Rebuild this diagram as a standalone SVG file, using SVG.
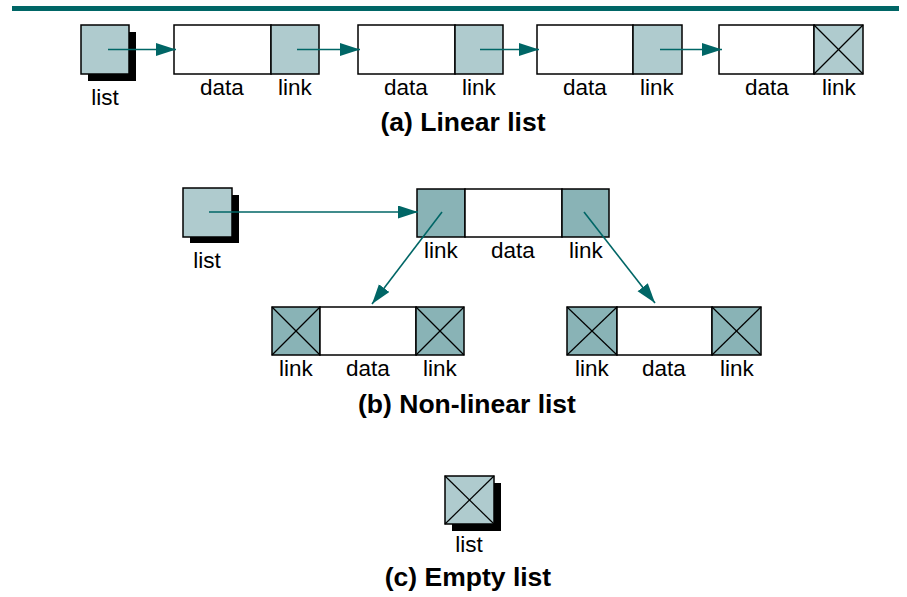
<svg xmlns="http://www.w3.org/2000/svg" width="907" height="597" viewBox="0 0 907 597">
<style>
  text { font-family: "Liberation Sans", Arial, sans-serif; fill: #000; }
  .lbl { font-size: 22.5px; text-anchor: middle; }
  .ttl { font-size: 26.5px; font-weight: bold; text-anchor: middle; }
  .box { stroke: #000; stroke-width: 1.5; }
  .light { fill: #afcbce; }
  .dark { fill: #89b3b6; }
  .white { fill: #fff; }
  .shadow { fill: #000; }
  .x { stroke: #000; stroke-width: 1.2; }
  .arr { stroke: #006666; stroke-width: 1.6; fill: none; marker-end: url(#ah); }
</style>
<defs>
  <marker id="ah" markerUnits="userSpaceOnUse" markerWidth="22" markerHeight="14" refX="20" refY="6.5" orient="auto">
    <path d="M0,0 L20,6.5 L0,13 Z" fill="#006666"/>
  </marker>
</defs>
<rect x="12" y="6" width="887" height="5" fill="#006666"/>

<!-- (a) Linear list -->
<g id="a-list">
  <rect class="shadow" x="88" y="32" width="48" height="49"/>
  <rect class="box light" x="81" y="25" width="48" height="49"/>
  <text class="lbl" x="105" y="105">list</text>
</g>
<g id="a-node1">
  <rect class="box white" x="174" y="25" width="97" height="49"/>
  <rect class="box light" x="271" y="25" width="48" height="49"/>
  <text class="lbl" x="222" y="95">data</text>
  <text class="lbl" x="295" y="95">link</text>
</g>
<g id="a-node2">
  <rect class="box white" x="358" y="25" width="97" height="49"/>
  <rect class="box light" x="455" y="25" width="48" height="49"/>
  <text class="lbl" x="406" y="95">data</text>
  <text class="lbl" x="479" y="95">link</text>
</g>
<g id="a-node3">
  <rect class="box white" x="537" y="25" width="96" height="49"/>
  <rect class="box light" x="633" y="25" width="49" height="49"/>
  <text class="lbl" x="585" y="95">data</text>
  <text class="lbl" x="657" y="95">link</text>
</g>
<g id="a-node4">
  <rect class="box white" x="719" y="25" width="95" height="49"/>
  <rect class="box light" x="814" y="25" width="49" height="49"/>
  <line class="x" x1="814" y1="25" x2="863" y2="74"/>
  <line class="x" x1="863" y1="25" x2="814" y2="74"/>
  <text class="lbl" x="767" y="95">data</text>
  <text class="lbl" x="839" y="95">link</text>
</g>
<text class="ttl" x="463" y="131">(a) Linear list</text>

<!-- (b) Non-linear list -->
<g id="b-list">
  <rect class="shadow" x="190" y="195" width="49" height="48"/>
  <rect class="box light" x="183" y="188" width="49" height="49"/>
  <text class="lbl" x="207" y="268">list</text>
</g>
<g id="b-root">
  <rect class="box dark" x="417" y="189" width="48" height="48"/>
  <rect class="box white" x="465" y="189" width="97" height="48"/>
  <rect class="box dark" x="562" y="189" width="47" height="48"/>
  <text class="lbl" x="441" y="258">link</text>
  <text class="lbl" x="513" y="258">data</text>
  <text class="lbl" x="586" y="258">link</text>
</g>
<g id="b-left">
  <rect class="box dark" x="272" y="307" width="48" height="48"/>
  <rect class="box white" x="320" y="307" width="96" height="48"/>
  <rect class="box dark" x="416" y="307" width="48" height="48"/>
  <line class="x" x1="272" y1="307" x2="320" y2="355"/>
  <line class="x" x1="320" y1="307" x2="272" y2="355"/>
  <line class="x" x1="416" y1="307" x2="464" y2="355"/>
  <line class="x" x1="464" y1="307" x2="416" y2="355"/>
  <text class="lbl" x="296" y="376">link</text>
  <text class="lbl" x="368" y="376">data</text>
  <text class="lbl" x="440" y="376">link</text>
</g>
<g id="b-right">
  <rect class="box dark" x="567" y="307" width="50" height="48"/>
  <rect class="box white" x="617" y="307" width="95" height="48"/>
  <rect class="box dark" x="712" y="307" width="49" height="48"/>
  <line class="x" x1="567" y1="307" x2="617" y2="355"/>
  <line class="x" x1="617" y1="307" x2="567" y2="355"/>
  <line class="x" x1="712" y1="307" x2="761" y2="355"/>
  <line class="x" x1="761" y1="307" x2="712" y2="355"/>
  <text class="lbl" x="592" y="376">link</text>
  <text class="lbl" x="664" y="376">data</text>
  <text class="lbl" x="737" y="376">link</text>
</g>
<text class="ttl" x="467" y="413">(b) Non-linear list</text>

<!-- (c) Empty list -->
<g id="c-list">
  <rect class="shadow" x="452" y="483" width="49" height="48"/>
  <rect class="box light" x="445" y="476" width="49" height="48"/>
  <line class="x" x1="445" y1="476" x2="494" y2="524"/>
  <line class="x" x1="494" y1="476" x2="445" y2="524"/>
  <text class="lbl" x="469" y="552">list</text>
</g>
<text class="ttl" x="468" y="586">(c) Empty list</text>

<g id="connectors">
  <line class="arr" x1="108" y1="49.5" x2="176" y2="49.5"/>
  <line class="arr" x1="297" y1="49.5" x2="360" y2="49.5"/>
  <line class="arr" x1="480" y1="49.5" x2="539" y2="49.5"/>
  <line class="arr" x1="660" y1="49.5" x2="722" y2="49.5"/>
  <line class="arr" x1="209" y1="212" x2="418" y2="212"/>
  <line class="arr" x1="442" y1="212" x2="372" y2="304"/>
  <line class="arr" x1="584" y1="212" x2="655" y2="303"/>
</g>
</svg>
